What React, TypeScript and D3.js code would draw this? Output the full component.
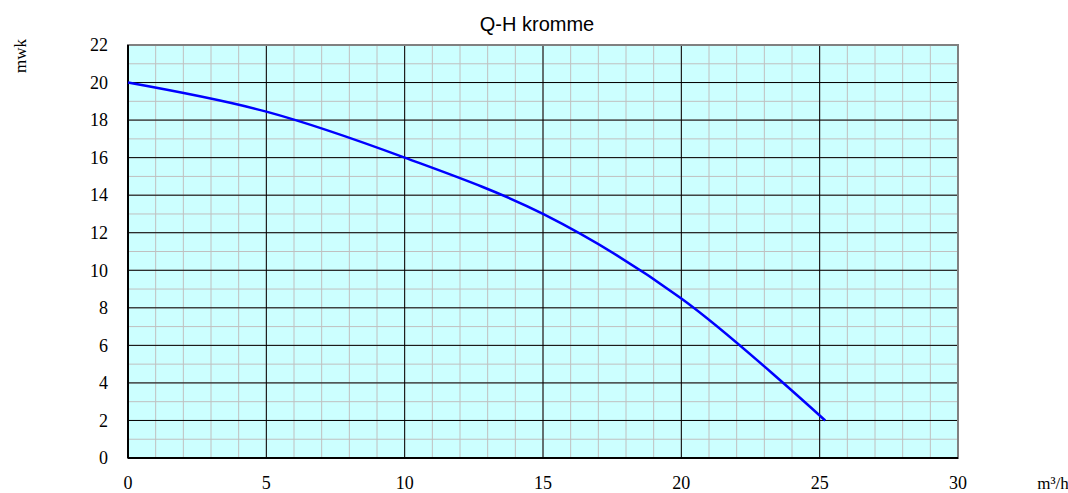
import React from 'react'
import * as d3 from 'd3'

const flowValues = [0, 5, 10, 15, 20, 25.2]
const headValues = [20, 18.45, 16, 13, 8.5, 2]
const xTicks = [0, 5, 10, 15, 20, 25, 30]
const yTicks = [0, 2, 4, 6, 8, 10, 12, 14, 16, 18, 20, 22]

export default function App() {
  const width = 1068, height = 493
  const margin = { top: 45, right: 110, bottom: 35, left: 128 }
  const w = width - margin.left - margin.right
  const h = height - margin.top - margin.bottom

  const x = d3.scaleLinear().domain([0, 30]).range([0, w])
  const y = d3.scaleLinear().domain([0, 22]).range([h, 0])

  const pts = flowValues.map((q, i) => [q, headValues[i]] as [number, number])
  const line = d3.line<[number, number]>()
    .x(d => x(d[0]))
    .y(d => y(d[1]))
    .curve(d3.curveCatmullRom.alpha(0.5))

  const minorX = d3.range(0, 31, 1)
  const minorY = d3.range(0, 23, 1)
  const serif = '"Liberation Serif", "Times New Roman", serif'

  return (
    <svg width={width} height={height} style={{ position: 'absolute', left: 0, top: 0 }}>
      <text x={537} y={31} textAnchor="middle" fontFamily='"Liberation Sans", Arial, sans-serif' fontSize={20}>Q-H kromme</text>
      <text transform="translate(26,56) rotate(-90)" textAnchor="middle" fontFamily={serif} fontSize={17}>mwk</text>
      <g transform={`translate(${margin.left},${margin.top})`}>
        <rect width={w} height={h} fill="#ccffff" />
        {minorX.map(v => <line key={'mx' + v} x1={x(v)} x2={x(v)} y1={0} y2={h} stroke="#c0c0c0" strokeWidth={1} />)}
        {minorY.map(v => <line key={'my' + v} x1={0} x2={w} y1={y(v)} y2={y(v)} stroke="#c0c0c0" strokeWidth={1} />)}
        {xTicks.map(v => <line key={'Mx' + v} x1={x(v)} x2={x(v)} y1={0} y2={h} stroke="#000" strokeWidth={1} />)}
        {yTicks.map(v => <line key={'My' + v} x1={0} x2={w} y1={y(v)} y2={y(v)} stroke="#000" strokeWidth={1} />)}
        <rect width={w} height={h} fill="none" stroke="#808080" strokeWidth={2} />
        <line x1={0} x2={0} y1={0} y2={h} stroke="#000" strokeWidth={2} />
        <line x1={0} x2={w} y1={h} y2={h} stroke="#000" strokeWidth={2} />
        <path d={line(pts) || ''} fill="none" stroke="#0000ff" strokeWidth={2.5} />
        {yTicks.map(v => (
          <text key={'yl' + v} x={-20} y={y(v)} dy="0.35em" textAnchor="end" fontFamily={serif} fontSize={18}>{v}</text>
        ))}
        {xTicks.map(v => (
          <text key={'xl' + v} x={x(v)} y={h + 31} textAnchor="middle" fontFamily={serif} fontSize={18}>{v}</text>
        ))}
        <text x={w + 95} y={h + 31} textAnchor="middle" fontFamily={serif} fontSize={17}>m³/h</text>
      </g>
    </svg>
  )
}
